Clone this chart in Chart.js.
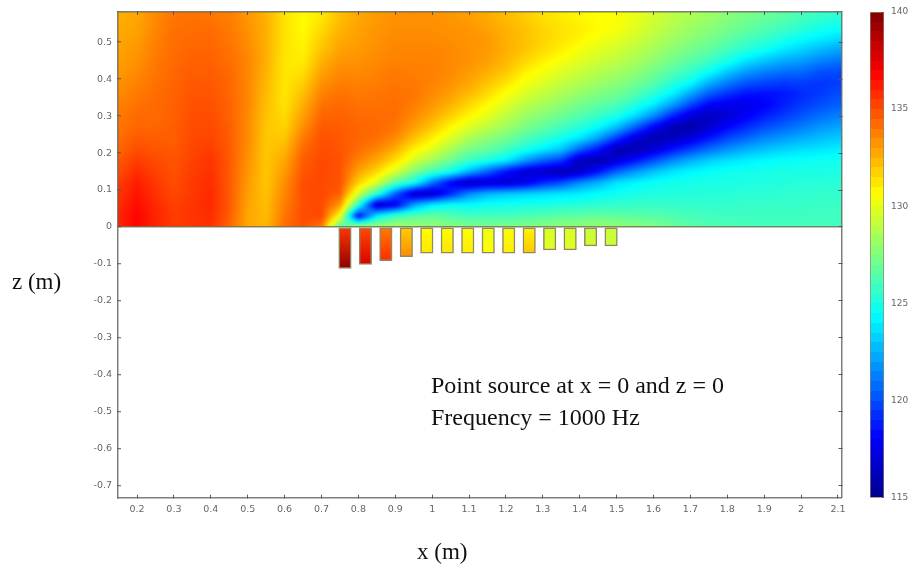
<!DOCTYPE html>
<html><head><meta charset="utf-8">
<script src="https://cdn.jsdelivr.net/npm/chart.js@4"></script>
<style>
html,body{margin:0;padding:0;background:#fff;width:913px;height:565px;overflow:hidden}
canvas{position:absolute}
.t{position:absolute;font-family:"Liberation Serif",serif;color:#111;white-space:nowrap;font-size:24px;line-height:24px}
</style></head><body>
<div style="position:absolute;left:0;top:0;width:913px;height:565px"><canvas id="main"></canvas></div>
<div style="position:absolute;left:860px;top:0;width:53px;height:565px"><canvas id="bar"></canvas></div>
<div class="t" style="left:12px;top:270px;font-size:23px">z (m)</div>
<div class="t" style="left:417px;top:540px;font-size:23px">x (m)</div>
<div class="t" style="left:431px;top:373px">Point source at x = 0 and z = 0</div>
<div class="t" style="left:431px;top:405px">Frequency = 1000 Hz</div>
<script>
const xCoords=[.15,.2,.25,.3,.35,.4,.45,.5,.55,.6,.65,.7,.75,.8,.85,.9,.95,1,1.05,1.1,1.15,1.2,1.25,1.3,1.35,1.4,1.45,1.5,1.55,1.6,1.65,1.7,1.75,1.8,1.85,1.9,1.95,2,2.05,2.1];
const zCoords=[0,.03,.06,.09,.12,.15,.18,.21,.24,.27,.3,.33,.36,.39,.42,.45,.48,.51,.54,.57];
// sound level (dB) above the wall: one list per x, bottom to top
const levelColumns=[
[136,136,135.8,135.6,135.4,135,134.7,134.4,134.2,134,133.9,133.7,133.5,133.3,133.1,133,132.9,132.8,132.7,132.6],
[136.8,136.8,136.6,136.4,136.2,135.8,135.4,135,134.7,134.4,134.3,134.1,133.9,133.7,133.5,133.3,133.2,133,132.9,132.8],
[136,136,135.9,135.7,135.5,135.3,135.1,134.8,134.6,134.4,134.3,134.3,134.2,134.1,134,133.9,133.8,133.7,133.6,133.5],
[135.4,135.4,135.3,135.1,135,134.9,134.8,134.7,134.6,134.6,134.5,134.5,134.5,134.4,134.4,134.3,134.2,134.2,134.1,134],
[135.6,135.6,135.6,135.5,135.5,135.4,135.3,135.2,135.1,135,135,134.9,134.8,134.7,134.6,134.5,134.4,134.3,134.2,134.1],
[135.7,135.8,135.9,135.9,135.8,135.7,135.6,135.4,135.2,135.1,135,134.9,134.8,134.7,134.6,134.5,134.4,134.3,134.2,134],
[134.4,134.6,134.7,134.7,134.7,134.7,134.7,134.7,134.6,134.6,134.5,134.5,134.4,134.4,134.3,134.2,134.1,134,133.9,133.8],
[132.8,132.8,132.9,133,133.1,133.2,133.3,133.4,133.5,133.5,133.5,133.6,133.6,133.6,133.6,133.6,133.5,133.4,133.3,133.2],
[132.4,132.3,132.2,132.1,132,132,132,132,132,132,132.1,132.2,132.3,132.4,132.5,132.6,132.6,132.6,132.6,132.5],
[134.2,134,133.8,133.6,133.4,133.1,132.8,132.4,132,131.7,131.5,131.3,131.2,131.2,131.2,131.2,131.3,131.3,131.3,131.3],
[135,135,135,135,135,134.8,134.6,134.3,133.9,133.4,133,132.6,132.2,131.8,131.4,131.1,130.9,130.8,130.7,130.7],
[134,135.1,135.1,135.1,135.1,135.1,135.1,135,134.9,134.7,134.4,134.1,133.7,133.3,132.9,132.5,132.1,131.8,131.5,131.2],
[126,130.5,133.2,134.6,134.9,134.9,134.9,134.8,134.7,134.6,134.5,134.3,134.1,133.8,133.5,133.2,132.9,132.7,132.4,132.2],
[129,118,125.5,129.5,131.8,132.9,133.7,134.2,134.4,134.4,134.3,134.1,133.9,133.7,133.5,133.3,133.1,133,132.9,132.8],
[128.5,124,116.5,125.5,129.7,131.6,132.8,133.6,134.2,134.3,134.2,134.1,134,133.8,133.7,133.5,133.4,133.3,133.2,133.1],
[128.5,126,117.5,120.5,126.5,129.7,131.4,132.6,133.5,134,134.2,134.2,134.1,134,133.9,133.7,133.6,133.5,133.4,133.3],
[128.3,126.5,122,116.5,124.8,127.5,129.6,131,132.2,133,133.5,133.8,134,133.9,133.8,133.7,133.6,133.5,133.4,133.4],
[128,126.8,124,116.5,121,126,128.3,129.9,131,132,132.7,133.2,133.5,133.7,133.7,133.7,133.6,133.5,133.4,133.3],
[127.8,126.4,124.5,119,118,124.8,127,128.5,129.8,130.8,131.8,132.5,133,133.3,133.5,133.5,133.5,133.4,133.3,133.2],
[127.5,126,124.4,121.5,116.2,122.5,125.8,127.3,128.6,129.8,130.8,131.6,132.3,132.8,133.1,133.3,133.3,133.3,133.2,133],
[127.5,126,124.8,122.5,116.8,120.5,125,126.8,127.8,129,130,130.7,131.5,132.1,132.6,133,133.1,133.1,132.9,132.7],
[127.5,126,124.8,123,116.8,118.5,124,126,127.2,128.2,129,129.8,130.5,131.3,132,132.4,132.6,132.6,132.5,132.3],
[127.6,126.2,125,123.3,117.5,117,122,125,126.3,127.4,128.2,129,129.7,130.4,131,131.7,132.1,132.2,132.1,131.9],
[127.8,126.4,125,123.5,119,116.5,120.5,124,125.6,126.7,127.6,128.4,129.1,129.8,130.4,131,131.5,131.7,131.6,131.4],
[128,126.6,125.2,123.8,120,115.8,119.5,123,124.8,126,127,127.8,128.5,129.2,129.8,130.4,131,131.3,131.3,131.1],
[128,126.7,125.3,124,121.5,116.5,116.3,120.5,123.8,125.3,126.4,127.2,128,128.7,129.3,129.9,130.4,130.9,131,130.8],
[128.2,126.8,125.5,124.4,122.5,118.5,115.8,118.5,122,124.4,125.7,126.7,127.5,128.2,128.8,129.4,129.9,130.4,130.7,130.6],
[128,126.7,125.6,124.7,123.7,120.5,117,116,119.5,122.8,125,126.2,127.1,127.8,128.4,129,129.5,130,130.5,130.5],
[127.8,126.6,125.7,125,124.2,121.8,118.5,115.8,117,120.5,123.5,125.2,126.4,127.2,127.9,128.5,129,129.5,129.9,130.1],
[127.5,126.5,125.7,125.1,124.6,122.9,120,117,115.8,118,121.5,123.9,125.4,126.5,127.2,127.9,128.4,128.9,129.3,129.5],
[127,126.3,125.7,125.2,124.8,123.7,121.4,118.5,116.3,116,119,122,124.1,125.4,126.4,127.2,127.8,128.3,128.7,129],
[126.6,126.1,125.6,125.2,124.9,124.2,122.4,119.7,117.2,115.6,117,119.8,122.2,124.4,125.7,126.6,127.2,127.8,128.2,128.6],
[126.3,126,125.6,125.3,125,124.5,123.2,120.8,118.6,116.8,116.2,118,120.3,122.5,124.6,125.9,126.7,127.3,127.8,128.2],
[126.2,125.9,125.6,125.3,125,124.7,123.7,121.7,119.8,118.2,117,117.5,119.3,121.2,123.1,125,126,126.8,127.3,127.7],
[126.1,125.9,125.7,125.4,125.1,124.8,124,122.4,120.6,119.1,117.9,117.5,118.5,120.2,122,123.8,125.3,126.2,126.9,127.3],
[126,125.9,125.7,125.4,125.1,124.9,124.3,122.9,121.4,120,118.8,118,118.4,119.8,121.3,123,124.7,125.7,126.4,127],
[126,125.9,125.7,125.5,125.2,125,124.5,123.3,121.9,120.6,119.5,118.8,118.6,119.5,120.9,122.4,123.9,125.1,126,126.6],
[126,125.9,125.7,125.5,125.3,125,124.6,123.6,122.4,121.2,120.2,119.5,119.1,119.6,120.7,122,123.3,124.5,125.5,126.1],
[126,125.9,125.8,125.6,125.3,125,124.7,123.8,122.8,121.8,120.8,120,119.5,119.4,120.1,121.4,122.7,124,125,125.7],
[126,125.9,125.8,125.6,125.4,125,124.8,124,123.1,122.2,121.3,120.5,120,119.6,119.9,121,122.2,123.6,124.6,125.4]
];
// slots below the wall
const slotCentres=[.7637,.819,.8745,.93,.9855,1.041,1.0965,1.152,1.2075,1.263,1.3185,1.374,1.4295,1.485];
const slotDepths=[.112,.101,.091,.08,.071,.071,.071,.071,.071,.071,.062,.062,.051,.051];
const slotTopLevels=[135.5,135,133.8,131.8,130.6,130.6,130.6,130.2,130.4,130.8,129.6,129.6,129.2,129.2];
const slotBottomLevels=[139.6,137.8,135.8,133.4,131.2,131.2,131,130.6,131,132,129.9,129.9,129.5,129.4];
const xTicks=[.2,.3,.4,.5,.6,.7,.8,.9,1,1.1,1.2,1.3,1.4,1.5,1.6,1.7,1.8,1.9,2,2.1];
const zTicks=[.5,.4,.3,.2,.1,0,-.1,-.2,-.3,-.4,-.5,-.6,-.7];
const colourTicks=[115,120,125,130,135,140];

const LOW=115,HIGH=140;
function jet(v){
  const t=Math.max(0,Math.min(1,(v-LOW)/(HIGH-LOW)));
  const stops=[[0,0,0,143],[.125,0,0,255],[.375,0,255,255],[.625,255,255,0],[.875,255,0,0],[1,128,0,0]];
  for(let i=1;i<stops.length;i++){ if(t<=stops[i][0]){const a=stops[i-1],b=stops[i],f=(t-a[0])/(b[0]-a[0]);
    return [a[1]+(b[1]-a[1])*f,a[2]+(b[2]-a[2])*f,a[3]+(b[3]-a[3])*f];}}
  return [128,0,0];
}
const css=v=>{const c=jet(v);return `rgb(${c[0]|0},${c[1]|0},${c[2]|0})`};
function locate(arr,v){
  if(v<=arr[0])return[0,0];
  const n=arr.length-1; if(v>=arr[n])return[n-1,1];
  let i=0; while(arr[i+1]<v)i++;
  return[i,(v-arr[i])/(arr[i+1]-arr[i])];
}
const heatPlugin={id:'heat',beforeDatasetsDraw(chart){
  const {ctx,chartArea:a,scales:{x,y}}=chart;
  const pad=5, L=Math.floor(a.left)-pad, T=Math.floor(a.top)-pad;
  const R=Math.ceil(a.right)+pad, B=Math.round(y.getPixelForValue(0))+pad;
  const w=R-L,h=B-T;
  const off=document.createElement('canvas');off.width=w;off.height=h;
  const oc=off.getContext('2d'),img=oc.createImageData(w,h);
  const cols=[];for(let i=0;i<w;i++)cols.push(locate(xCoords,x.getValueForPixel(L+i+.5)));
  const rows=[];for(let j=0;j<h;j++)rows.push(locate(zCoords,y.getValueForPixel(T+j+.5)));
  for(let j=0;j<h;j++){const[r,fr]=rows[j];
    for(let i=0;i<w;i++){const[c,fc]=cols[i];
      const A=levelColumns[c],C=levelColumns[Math.min(c+1,xCoords.length-1)];
      const r2=Math.min(r+1,zCoords.length-1);
      const v=(A[r]*(1-fr)+A[r2]*fr)*(1-fc)+(C[r]*(1-fr)+C[r2]*fr)*fc;
      const col=jet(v),k=(j*w+i)*4;
      img.data[k]=col[0];img.data[k+1]=col[1];img.data[k+2]=col[2];img.data[k+3]=255;}}
  oc.putImageData(img,0,0);
  ctx.save();
  ctx.beginPath();ctx.rect(a.left,a.top,a.right-a.left,y.getPixelForValue(0)-a.top);ctx.clip();
  ctx.filter='blur(1.6px)';
  ctx.drawImage(off,L,T);
  ctx.restore();
}};
const tickFont={family:'"DejaVu Sans",sans-serif',size:9.5};
const tickColor='#666';
const fmt=v=>String(Math.round(v*10)/10);
const setTicks=list=>scale=>{scale.ticks=list.map(v=>({value:v}));};
const clearPad=s=>{s.paddingTop=0;s.paddingBottom=0;s.paddingLeft=0;s.paddingRight=0;};
const axisBase=(size)=>({
  border:{color:'rgba(95,95,85,.8)',width:1.5,z:1},
  grid:{drawOnChartArea:false,drawTicks:true,tickLength:-3,tickColor:'#555',tickWidth:1,offset:false,z:1},
  afterFit(s){ if(s.isHorizontal())s.height=size; else s.width=size; clearPad(s); }
});
const slotFill=c=>{
  if(c.type!=='data')return 'transparent';
  const sc=c.chart.scales.y,y0=sc.getPixelForValue(0),y1=sc.getPixelForValue(-slotDepths[c.dataIndex]);
  if(!isFinite(y0)||!isFinite(y1))return css(slotBottomLevels[c.dataIndex]);
  const g=c.chart.ctx.createLinearGradient(0,y0,0,y1);
  g.addColorStop(0,css(slotTopLevels[c.dataIndex]));g.addColorStop(1,css(slotBottomLevels[c.dataIndex]));
  return g;
};
const yAxis=axisBase(118);
yAxis.grid={...yAxis.grid,drawOnChartArea:true,lineWidth:1.5,
  color:c=>c.tick&&c.tick.value===0?'rgba(115,115,85,.85)':'rgba(0,0,0,0)'};
new Chart(document.getElementById('main'),{
  type:'bar',
  data:{datasets:[
    {type:'scatter',label:'Sound level',xAxisID:'x',yAxisID:'y',pointRadius:0,pointHoverRadius:0,
     data:xCoords.flatMap((xv,i)=>zCoords.map((zv,j)=>({x:xv,y:zv,v:levelColumns[i][j]})))},
    {type:'bar',label:'Slots',xAxisID:'x',yAxisID:'y',barThickness:12.5,
     data:slotCentres.map((xv,i)=>({x:xv,y:[-slotDepths[i],0]})),
     backgroundColor:slotFill,borderColor:'rgba(125,115,75,.85)',borderWidth:1.5,borderSkipped:false}
  ]},
  options:{responsive:true,maintainAspectRatio:false,animation:false,
    layout:{padding:0},
    plugins:{legend:{display:false},tooltip:{enabled:false},title:{display:false}},
    scales:{
      x:{type:'linear',position:'bottom',offset:false,min:.1485,max:2.1095,...axisBase(67.3),
        afterBuildTicks:setTicks(xTicks),
        ticks:{autoSkip:false,maxRotation:0,minRotation:0,padding:9,font:tickFont,color:tickColor,callback:fmt}},
      x2:{type:'linear',axis:'x',position:'top',offset:false,min:.1485,max:2.1095,...axisBase(12),
        afterBuildTicks:setTicks(xTicks),ticks:{display:false}},
      y:{type:'linear',position:'left',min:-.7325,max:.5817,...yAxis,
        afterBuildTicks:setTicks(zTicks),
        ticks:{autoSkip:false,padding:9,font:tickFont,color:tickColor,callback:fmt}},
      y2:{type:'linear',axis:'y',position:'right',min:-.7325,max:.5817,...axisBase(71.5),
        afterBuildTicks:setTicks(zTicks),ticks:{display:false}}
    }},
  plugins:[heatPlugin]
});
const barFill=c=>{
  const sc=c.chart.scales.y;if(!sc)return '#000';
  const y0=sc.getPixelForValue(LOW),y1=sc.getPixelForValue(HIGH);
  if(!isFinite(y0)||!isFinite(y1))return '#000';
  const g=c.chart.ctx.createLinearGradient(0,y0,0,y1);
  const n=50;
  for(let i=0;i<n;i++){const col=css(LOW+(i+.5)*(HIGH-LOW)/n);g.addColorStop(i/n,col);g.addColorStop((i+1)/n,col);}
  return g;
};
new Chart(document.getElementById('bar'),{
  type:'bar',
  data:{labels:['dB'],datasets:[{label:'Colour scale',data:[[LOW,HIGH]],backgroundColor:barFill,
    borderColor:'rgba(120,105,70,.8)',borderWidth:1,borderSkipped:false,barPercentage:1,categoryPercentage:1}]},
  options:{responsive:true,maintainAspectRatio:false,animation:false,
    layout:{padding:{left:10,top:12,bottom:67.3}},
    plugins:{legend:{display:false},tooltip:{enabled:false}},
    scales:{
      x:{display:false},
      y:{position:'right',min:LOW,max:HIGH,afterBuildTicks:setTicks(colourTicks),
        afterFit(s){s.width=29;clearPad(s);},
        border:{display:false},
        grid:{display:true,drawOnChartArea:false,tickLength:-2,tickColor:'#444'},
        ticks:{autoSkip:false,padding:9,font:{family:'"DejaVu Sans",sans-serif',size:9},color:'#666'}}
    }}
});
</script>
</body></html>
